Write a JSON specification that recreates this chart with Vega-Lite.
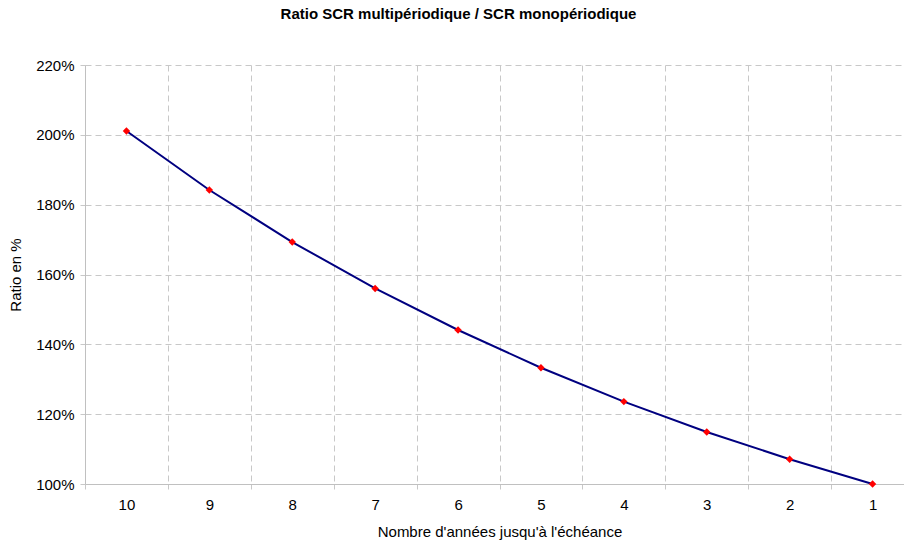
{
  "$schema": "https://vega.github.io/schema/vega-lite/v6.json",
  "autosize": {"type": "none"},
  "padding": {"left": 85, "top": 65, "right": 0, "bottom": 57},
  "width": 829,
  "height": 419,
  "background": "white",
  "title": {
    "text": "Ratio SCR multipériodique / SCR monopériodique",
    "font": "Liberation Sans",
    "fontSize": 15,
    "fontWeight": "bold",
    "color": "black",
    "anchor": "middle",
    "dx": -41,
    "offset": 36
  },
  "data": {
    "values": [
      {"annees": 10, "ratio": 2.011},
      {"annees": 9, "ratio": 1.842},
      {"annees": 8, "ratio": 1.693},
      {"annees": 7, "ratio": 1.560},
      {"annees": 6, "ratio": 1.441},
      {"annees": 5, "ratio": 1.333},
      {"annees": 4, "ratio": 1.236},
      {"annees": 3, "ratio": 1.149},
      {"annees": 2, "ratio": 1.071},
      {"annees": 1, "ratio": 1.000}
    ]
  },
  "encoding": {
    "x": {
      "field": "annees",
      "type": "ordinal",
      "sort": "descending",
      "scale": {"type": "band", "paddingInner": 0, "paddingOuter": 0},
      "axis": {
        "title": "Nombre d'années jusqu'à l'échéance",
        "titleFont": "Liberation Sans",
        "titleFontSize": 15,
        "titleFontWeight": "normal",
        "titleColor": "black",
        "titlePadding": 12,
        "labelFont": "Liberation Sans",
        "labelFontSize": 15,
        "labelColor": "black",
        "labelAngle": 0,
        "labelPadding": 8,
        "tickBand": "extent",
        "grid": true,
        "gridDash": [6, 4],
        "gridColor": "#c8c8c8",
        "domainColor": "#c0c0c0",
        "tickColor": "#c8c8c8",
        "tickSize": 5
      }
    },
    "y": {
      "field": "ratio",
      "type": "quantitative",
      "scale": {"domain": [1, 2.2], "nice": false, "zero": false},
      "axis": {
        "title": "Ratio en %",
        "titleFont": "Liberation Sans",
        "titleFontSize": 15,
        "titleFontWeight": "normal",
        "titleColor": "black",
        "titlePadding": 12,
        "format": ".0%",
        "values": [1, 1.2, 1.4, 1.6, 1.8, 2, 2.2],
        "labelFont": "Liberation Sans",
        "labelFontSize": 15,
        "labelColor": "black",
        "labelPadding": 6,
        "grid": true,
        "gridDash": [6, 4],
        "gridColor": "#c8c8c8",
        "domainColor": "#c0c0c0",
        "tickColor": "#c8c8c8",
        "tickSize": 5
      }
    }
  },
  "layer": [
    {"mark": {"type": "line", "color": "#000080", "strokeWidth": 2}},
    {"mark": {"type": "point", "shape": "diamond", "filled": true, "color": "#ff0000", "size": 55, "opacity": 1}}
  ],
  "config": {"view": {"stroke": null}}
}
